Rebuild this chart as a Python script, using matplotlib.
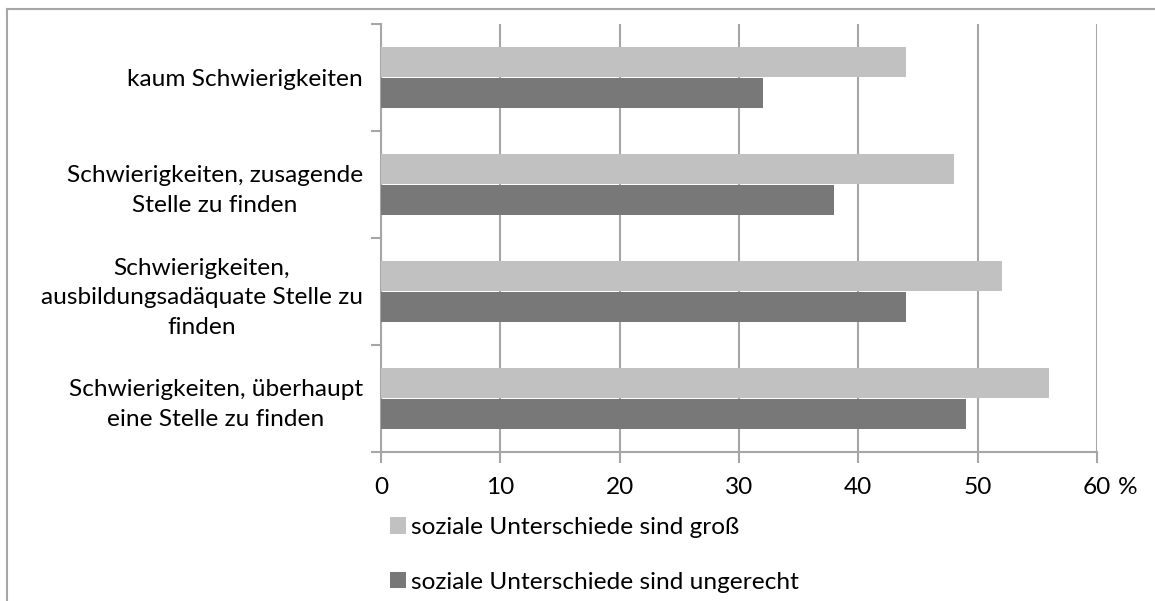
import matplotlib
matplotlib.use("Agg")
import matplotlib.pyplot as plt
import numpy as np
from matplotlib.lines import Line2D
from matplotlib.patches import Patch

plt.rcParams['font.family'] = ['Lato', 'DejaVu Sans']

categories = [
    "kaum Schwierigkeiten",
    "Schwierigkeiten, zusagende\nStelle zu finden",
    "Schwierigkeiten,\nausbildungsadäquate Stelle zu\nfinden",
    "Schwierigkeiten, überhaupt\neine Stelle zu finden",
]
series_names = ["soziale Unterschiede sind groß", "soziale Unterschiede sind ungerecht"]
gross = [44, 48, 52, 56]
ungerecht = [32, 38, 44, 49]
xticks = [0, 10, 20, 30, 40, 50, 60]

light = "#c1c1c1"
dark = "#787878"
gridc = "#a6a6a6"
fs = 17.6

fig = plt.figure(figsize=(11.55, 6.01), dpi=100)
ax = fig.add_axes([381/1155, (601-452)/601, (1097-381)/1155, (452-24)/601])

y = np.arange(len(categories))
h = 0.28
ax.barh(y - 0.145, gross, height=h, color=light, label=series_names[0], zorder=3)
ax.barh(y + 0.145, ungerecht, height=h, color=dark, label=series_names[1], zorder=3)

ax.set_xlim(0, 60)
ax.set_ylim(len(categories) - 0.5, -0.5)
ax.set_xticks(xticks)
ax.set_xticklabels([str(v) for v in xticks], fontsize=fs)
ax.set_yticks(y)
ax.set_yticklabels(categories, fontsize=fs, multialignment='center', linespacing=1.52)
for lbl in ax.get_yticklabels():
    lbl.set_verticalalignment('center_baseline')
ax.set_yticks(np.arange(-0.5, len(categories)), minor=True)
ax.tick_params(axis='y', which='major', length=0, pad=13)
ax.tick_params(axis='y', which='minor', length=7, width=1.5, color=gridc)
ax.tick_params(axis='x', which='major', length=8, width=1.5, color=gridc, pad=10)
ax.xaxis.grid(True, color=gridc, linewidth=1.5, zorder=0)
for s in ['top', 'right']:
    ax.spines[s].set_visible(False)
for s in ['left', 'bottom']:
    ax.spines[s].set_color(gridc)
    ax.spines[s].set_linewidth(1.5)

fig.text(1118/1155, 1 - 487/601, "%", fontsize=fs, ha='left', va='center')

handles = [Patch(facecolor=light), Patch(facecolor=dark)]
fig.legend(handles, series_names, loc='upper left', bbox_to_anchor=(390/1155, 1 - 517/601),
           frameon=False, fontsize=fs, handlelength=0.65, handleheight=0.65,
           handletextpad=0.2, labelspacing=1.38, borderpad=0, borderaxespad=0)

fig.add_artist(Line2D([7/1155, 7/1155], [0, 1 - 9/601], color=gridc, linewidth=1.5))
fig.add_artist(Line2D([7/1155, 1], [1 - 9/601, 1 - 9/601], color=gridc, linewidth=1.5))

fig.savefig("out.png", dpi=100)
